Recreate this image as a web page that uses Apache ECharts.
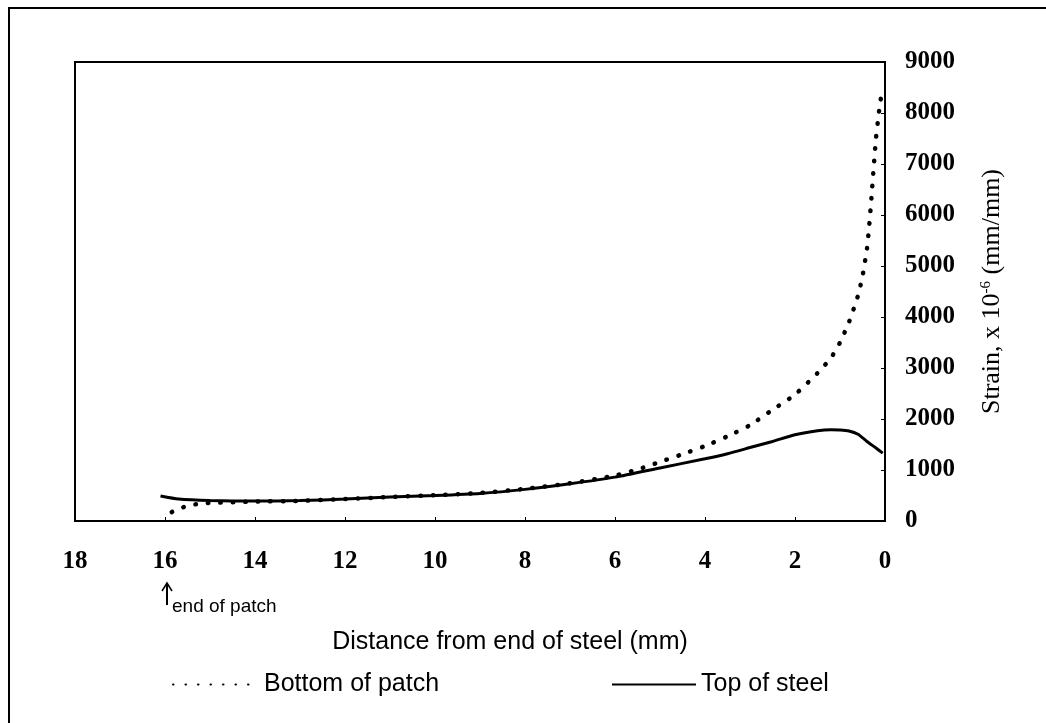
<!DOCTYPE html>
<html>
<head>
<meta charset="utf-8">
<script src="https://cdn.jsdelivr.net/npm/echarts@6/dist/echarts.min.js"></script>
<style>html,body{margin:0;padding:0;background:#fff;}#c{width:1046px;height:723px;}</style>
</head>
<body>
<div id="c"></div>
<script>
// Distance from end of steel (mm) and strain (x10^-6)
var patchDist   = [15.85, 15.5, 15.2, 15.0, 14.0, 13.0, 12.0, 11.0, 10.0, 9.0, 8.0, 7.0, 6.0, 5.5, 5.0, 4.5, 4.0, 3.5, 3.0, 2.5, 2.0, 1.5, 1.2, 1.0, 0.8, 0.6, 0.5, 0.4, 0.35, 0.3, 0.25, 0.2, 0.15, 0.1, 0.07];
var patchStrain = [175, 300, 340, 355, 380, 395, 430, 470, 505, 550, 630, 740, 890, 1010, 1160, 1310, 1470, 1660, 1880, 2180, 2480, 2900, 3200, 3500, 3900, 4420, 4800, 5350, 5800, 6350, 6950, 7500, 7900, 8250, 8350];
var steelDist   = [16.1, 15.7, 15.0, 14.0, 13.0, 12.0, 11.0, 10.0, 9.0, 8.0, 7.0, 6.0, 5.0, 4.0, 3.5, 3.0, 2.5, 2.0, 1.5, 1.2, 1.0, 0.8, 0.6, 0.4, 0.2, 0.05];
var steelStrain = [490, 430, 400, 390, 400, 430, 470, 500, 540, 620, 730, 860, 1040, 1220, 1320, 1440, 1560, 1690, 1770, 1790, 1785, 1765, 1700, 1560, 1430, 1330];
var xTicks = {min: 0, max: 18, interval: 2};
var yTicks = {min: 0, max: 9000, interval: 1000};
var seriesNames = ['Bottom of patch', 'Top of steel'];

function pairs(xs, ys) { return xs.map(function (x, i) { return [x, ys[i]]; }); }

var chart = echarts.init(document.getElementById('c'));
var serif = 'Liberation Serif';
var sans = 'Liberation Sans';
chart.setOption({
  backgroundColor: '#fff',
  animation: false,
  grid: { left: 75, right: 161, top: 62, bottom: 202, show: true, borderColor: '#000', borderWidth: 2 },
  xAxis: {
    type: 'value', inverse: true, min: xTicks.min, max: xTicks.max, interval: xTicks.interval,
    name: 'Distance from end of steel (mm)', nameLocation: 'middle', nameGap: 109,
    nameTextStyle: { fontFamily: sans, fontSize: 25, color: '#000', padding: [0, 0, 0, 60] },
    axisLine: { lineStyle: { color: '#000', width: 2 } },
    axisTick: { show: true, inside: true, length: 4, lineStyle: { color: '#000' } },
    axisLabel: { fontFamily: serif, fontSize: 25, fontWeight: 'bold', color: '#000', margin: 28 },
    splitLine: { show: false }
  },
  yAxis: {
    type: 'value', position: 'right', min: yTicks.min, max: yTicks.max, interval: yTicks.interval,
    name: 'Strain, x 10{sup|-6} (mm/mm)', nameLocation: 'middle', nameRotate: 90, nameGap: 94,
    nameTextStyle: { fontFamily: serif, fontSize: 26, color: '#000',
      rich: { sup: { fontFamily: serif, fontSize: 15, color: '#000', verticalAlign: 'top', padding: [0, 0, 12, 0] } } },
    axisLine: { show: true, lineStyle: { color: '#000', width: 2 } },
    axisTick: { show: true, length: 4, inside: true, lineStyle: { color: '#000' } },
    axisLabel: { fontFamily: serif, fontSize: 25, fontWeight: 'bold', color: '#000', margin: 20,
      formatter: function (v) { return String(v); } },
    splitLine: { show: false }
  },
  legend: [
    { data: [seriesNames[0]], left: 172, top: 672, padding: 0, itemWidth: 86, itemHeight: 24, itemGap: 0,
      itemStyle: { opacity: 0 },
      textStyle: { fontFamily: sans, fontSize: 25, color: '#000' } },
    { data: [seriesNames[1]], left: 611, top: 672, padding: 0, itemWidth: 84, itemHeight: 24, itemGap: 0,
      itemStyle: { opacity: 0 },
      textStyle: { fontFamily: sans, fontSize: 25, color: '#000' } }
  ],
  series: [
    { name: seriesNames[0], type: 'line', data: pairs(patchDist, patchStrain), smooth: 0.2,
      symbol: 'none', showSymbol: false, itemStyle: { color: '#000' },
      lineStyle: { color: '#000', width: 4.5, type: [0.5, 12], cap: 'round' } },
    { name: seriesNames[1], type: 'line', data: pairs(steelDist, steelStrain), smooth: 0.2,
      symbol: 'none', showSymbol: false, itemStyle: { color: '#000' },
      lineStyle: { color: '#000', width: 3 } }
  ],
  graphic: [
    { type: 'rect', shape: { x: 9, y: 8, width: 1100, height: 800 }, style: { fill: 'none', stroke: '#000', lineWidth: 2 }, silent: true },
    { type: 'line', shape: { x1: 167, y1: 605, x2: 167, y2: 584 }, style: { stroke: '#000', lineWidth: 2 } },
    { type: 'polyline', shape: { points: [[162, 591], [167, 583], [172, 591]] }, style: { stroke: '#000', lineWidth: 1.5, fill: 'none' } },
    { type: 'text', x: 172, y: 607, style: { text: 'end of patch', fontFamily: sans, fontSize: 19, fill: '#000', textVerticalAlign: 'middle' } }
  ]
});
</script>
</body>
</html>
